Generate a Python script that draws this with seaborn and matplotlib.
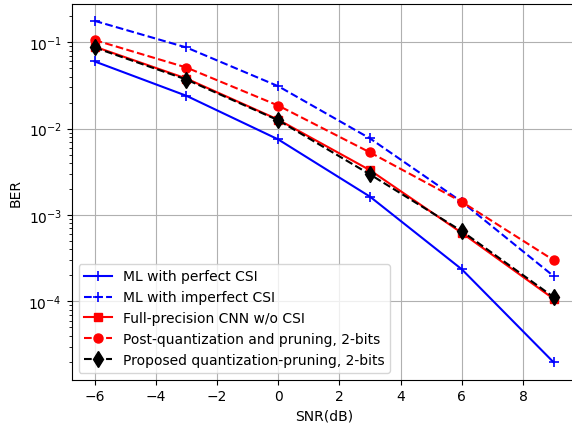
import matplotlib
matplotlib.use("Agg")
import matplotlib.pyplot as plt
from matplotlib.ticker import LogLocator, NullFormatter
import seaborn as sns

# SNR points
snr = [-6, -3, 0, 3, 6, 9]

# BER curves
ber_ml_perfect = [0.060, 0.024, 0.0075, 0.00163, 0.000235, 0.0000197]
ber_ml_imperfect = [0.177, 0.087, 0.031, 0.0077, 0.00142, 0.000196]
ber_cnn_full = [0.089, 0.038, 0.0127, 0.0033, 0.00062, 0.000107]
ber_post_quant = [0.106, 0.051, 0.0185, 0.0053, 0.00142, 0.00030]
ber_proposed = [0.087, 0.037, 0.0125, 0.00295, 0.00065, 0.000112]

labels = [
    "ML with perfect CSI",
    "ML with imperfect CSI",
    "Full-precision CNN w/o CSI",
    "Post-quantization and pruning, 2-bits",
    "Proposed quantization-pruning, 2-bits",
]

# plain matplotlib look
sns.reset_orig()
plt.rcParams["font.family"] = ["DejaVu Sans"]

fig = plt.figure(figsize=(5.72, 4.27), dpi=100)
ax = fig.add_axes([0.1253, 0.1084, 0.8827, 0.8799])

series = [
    (ber_ml_perfect, "blue", "-", "+", 7, 1.2),
    (ber_ml_imperfect, "blue", "--", "+", 7, 1.2),
    (ber_cnn_full, "red", "-", "s", 6, 1.0),
    (ber_post_quant, "red", "--", "o", 6.5, 1.0),
    (ber_proposed, "black", "--", "d", 8, 1.0),
]

for (vals, col, ls, mk, ms, mew), lab in zip(series, labels):
    sns.lineplot(x=snr, y=vals, ax=ax, color=col, linestyle=ls, marker=mk,
                 markersize=ms, markeredgecolor=col, markerfacecolor=col,
                 markeredgewidth=mew, linewidth=1.5, label=lab)

ax.set_yscale("log")
ax.set_xlim(-6.75, 9.75)
ax.set_ylim(10 ** -4.907, 10 ** -0.557)
ax.set_xticks([-6, -4, -2, 0, 2, 4, 6, 8])
ax.yaxis.set_minor_locator(LogLocator(base=10, subs=[2, 3, 4, 5, 6, 7, 8, 9], numticks=20))
ax.yaxis.set_minor_formatter(NullFormatter())
ax.tick_params(axis="y", which="minor", length=2, width=0.6)
ax.grid(True, which="major", color="#b0b0b0", linewidth=0.8)
ax.set_xlabel("SNR(dB)", fontsize=10)
ax.set_ylabel("BER", fontsize=10)
ax.tick_params(labelsize=10)
ax.legend(loc="lower left", fontsize=10)

fig.savefig("out.png", dpi=100)
